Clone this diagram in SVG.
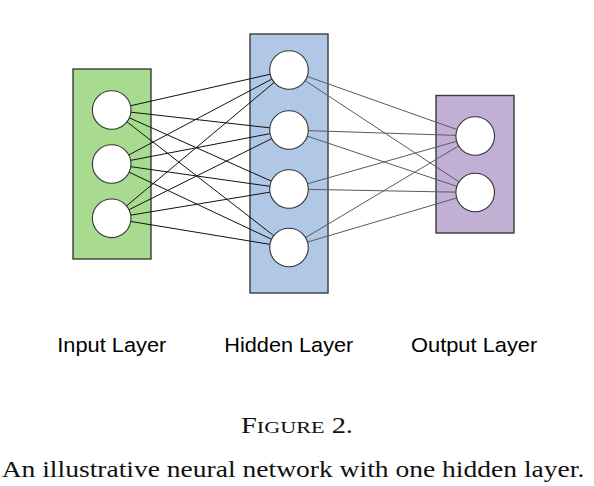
<svg xmlns="http://www.w3.org/2000/svg" width="594" height="486" viewBox="0 0 594 486">
<style>
.layer{stroke:#3a3a3a;stroke-width:1.4}
.node{fill:#fff;stroke:#333;stroke-width:1.1}
.ih{stroke:#111;stroke-width:1}
.ho{stroke:#5a5a5a;stroke-width:1}
.lbl{font-family:"Liberation Sans",Arial,sans-serif;font-size:20.5px;fill:#000}
.cap{font-family:"Liberation Serif","Times New Roman",serif;fill:#111}
</style>
<rect width="594" height="486" fill="#fff"/>
<g id="input-layer"><rect class="layer" x="73" y="69" width="78" height="190" fill="#A8DB8F"/></g>
<g id="hidden-layer"><rect class="layer" x="250" y="34" width="78" height="259" fill="#B1C7E6"/></g>
<g id="output-layer"><rect class="layer" x="436" y="95.5" width="78" height="137.5" fill="#C2B0D4"/></g>
<g id="connectors">
<g class="ih">
<line x1="111.7" y1="110" x2="289" y2="70"/><line x1="111.7" y1="110" x2="289" y2="130"/><line x1="111.7" y1="110" x2="289" y2="189"/><line x1="111.7" y1="110" x2="289" y2="247.5"/>
<line x1="111.7" y1="164" x2="289" y2="70"/><line x1="111.7" y1="164" x2="289" y2="130"/><line x1="111.7" y1="164" x2="289" y2="189"/><line x1="111.7" y1="164" x2="289" y2="247.5"/>
<line x1="111.7" y1="218.3" x2="289" y2="70"/><line x1="111.7" y1="218.3" x2="289" y2="130"/><line x1="111.7" y1="218.3" x2="289" y2="189"/><line x1="111.7" y1="218.3" x2="289" y2="247.5"/>
</g>
<g class="ho">
<line x1="289" y1="70" x2="475.2" y2="136"/><line x1="289" y1="70" x2="475.2" y2="192.5"/>
<line x1="289" y1="130" x2="475.2" y2="136"/><line x1="289" y1="130" x2="475.2" y2="192.5"/>
<line x1="289" y1="189" x2="475.2" y2="136"/><line x1="289" y1="189" x2="475.2" y2="192.5"/>
<line x1="289" y1="247.5" x2="475.2" y2="136"/><line x1="289" y1="247.5" x2="475.2" y2="192.5"/>
</g>
</g>
<g id="in1"><circle class="node" cx="111.7" cy="110" r="19.3"/></g>
<g id="in2"><circle class="node" cx="111.7" cy="164" r="19.3"/></g>
<g id="in3"><circle class="node" cx="111.7" cy="218.3" r="19.3"/></g>
<g id="h1"><circle class="node" cx="289" cy="70" r="19.3"/></g>
<g id="h2"><circle class="node" cx="289" cy="130" r="19.3"/></g>
<g id="h3"><circle class="node" cx="289" cy="189" r="19.3"/></g>
<g id="h4"><circle class="node" cx="289" cy="247.5" r="19.3"/></g>
<g id="o1"><circle class="node" cx="475.2" cy="136" r="19.3"/></g>
<g id="o2"><circle class="node" cx="475.2" cy="192.5" r="19.3"/></g>
<g id="labels">
<text class="lbl" x="57.3" y="351.7" textLength="109" lengthAdjust="spacingAndGlyphs">Input Layer</text>
<text class="lbl" x="224.3" y="351.7" textLength="129" lengthAdjust="spacingAndGlyphs">Hidden Layer</text>
<text class="lbl" x="411" y="351.7" textLength="126.3" lengthAdjust="spacingAndGlyphs">Output Layer</text>
</g>
<g id="caption">
<text class="cap" x="241" y="433.3" textLength="112" lengthAdjust="spacingAndGlyphs"><tspan font-size="22.5">F</tspan><tspan font-size="17.5">IGURE</tspan><tspan font-size="22.5"> 2.</tspan></text>
<text class="cap" x="1.7" y="476.5" font-size="22.5" textLength="582.6" lengthAdjust="spacingAndGlyphs">An illustrative neural network with one hidden layer.</text>
</g>
</svg>
